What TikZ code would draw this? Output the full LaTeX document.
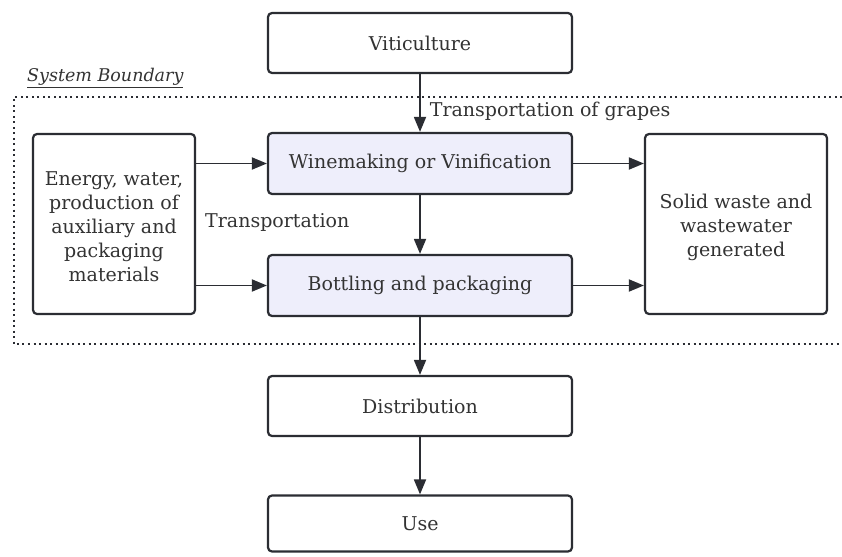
\documentclass[tikz,border=0pt]{standalone}
\usepackage{fontspec}
\setmainfont{DejaVu Serif}
\usetikzlibrary{arrows.meta}
\definecolor{inkc}{HTML}{2B2D33}
\definecolor{txtc}{HTML}{333333}
\definecolor{procfill}{HTML}{EEEEFB}
% multi-line centred text, drawn a little below the box centre
\newcommand{\lowstack}[2]{\raisebox{-#1}[\height][\depth]{\begin{tabular}{@{}c@{}}#2\end{tabular}}}
\tikzset{
  txt/.style={text=txtc, font=\fontsize{19}{24}\selectfont},
  box/.style={txt, draw=inkc, line width=2.2pt, rounded corners=4pt, fill=white,
    align=center, inner sep=0pt},
  proc/.style={box, fill=procfill},
  flow/.style={draw=inkc, line width=1.8pt,
    -{Triangle[length=15pt,width=12pt]}},
  lbl/.style={txt, inner sep=0pt},
  boundary/.style={draw=inkc, line width=2.4pt, dash pattern=on 2pt off 3.5pt}
}
\begin{document}
\begin{tikzpicture}[x=1pt, y=-1pt]
\useasboundingbox (0,0) rectangle (842,556);
% system boundary (open on the right)
\draw[boundary] (842,97) -- (14,97) -- (14,344) -- (842,344);
\node[lbl, anchor=base west, font=\fontsize{17.5}{20}\selectfont\itshape]
  (sb) at (27,82) {\underline{System Boundary}};
% process boxes
\node[box, minimum width=304pt, minimum height=60pt] (vit) at (420,43) {Viticulture};
\node[proc, minimum width=304pt, minimum height=61pt] (wine) at (420,163.5) {Winemaking or Vinification};
\node[proc, minimum width=304pt, minimum height=61pt] (bott) at (420,285.5) {Bottling and packaging};
\node[box, minimum width=162pt, minimum height=180pt] (ener) at (114,224)
  {\lowstack{5pt}{Energy, water,\\production of\\auxiliary and\\packaging\\materials}};
\node[box, minimum width=182pt, minimum height=180pt] (waste) at (736,224)
  {\lowstack{4pt}{Solid waste and\\wastewater\\generated}};
\node[box, minimum width=304pt, minimum height=60pt] (dist) at (420,406) {Distribution};
\node[box, minimum width=304pt, minimum height=56pt] (use) at (420,523.5) {Use};
% connectors
\draw[flow] (vit) -- node[lbl, anchor=west, pos=0.65, xshift=9pt] (tg) {Transportation of grapes} (wine);
\draw[flow] (wine) -- (bott);
\draw[flow] (bott) -- (dist);
\draw[flow] (dist) -- (use);
\draw[flow] (ener.east |- wine) -- (wine.west);
\draw[flow] (ener.east |- bott) -- (bott.west);
\draw[flow] (wine.east) -- (waste.west |- wine);
\draw[flow] (bott.east) -- (waste.west |- bott);
\node[lbl, anchor=west] (tr) at (205,222) {Transportation};
\end{tikzpicture}
\end{document}
